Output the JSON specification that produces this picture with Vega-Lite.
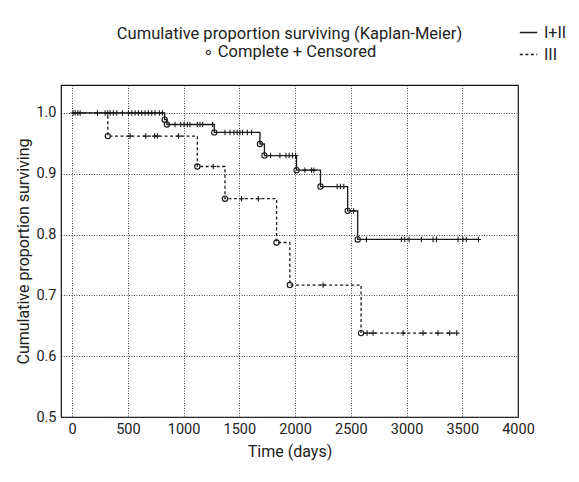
{
  "$schema": "https://vega.github.io/schema/vega-lite/v6.json",
  "autosize": {"type": "none"},
  "width": 457,
  "height": 332,
  "padding": {"left": 61, "top": 85, "right": 61, "bottom": 65},
  "background": "white",
  "config": {
    "font": "Roboto",
    "view": {"stroke": "#111", "strokeWidth": 1.2},
    "axis": {
      "labelFont": "Roboto",
      "labelFontSize": 14.5,
      "labelColor": "#222",
      "titleFont": "Roboto",
      "titleFontSize": 16,
      "titleFontWeight": "normal",
      "titleColor": "#222",
      "ticks": false,
      "domain": false,
      "gridColor": "#444",
      "gridDash": [1, 1.5],
      "gridOpacity": 1,
      "gridWidth": 1
    },
    "legend": {
      "labelFont": "Roboto",
      "labelFontSize": 16,
      "labelColor": "#222"
    },
    "title": {
      "font": "Roboto",
      "fontSize": 16.5,
      "fontWeight": "normal",
      "color": "#222"
    }
  },
  "title": {
    "text": ["Cumulative proportion surviving (Kaplan-Meier)", "∘ Complete + Censored"],
    "anchor": "middle",
    "frame": "group",
    "offset": -37,
    "lineHeight": 18
  },
  "data": {
    "values": [
      {"g": "I+II", "t": 0, "s": 1.0, "k": "start"},
      {"g": "I+II", "t": 8, "s": 1.0, "k": "censor"},
      {"g": "I+II", "t": 27, "s": 1.0, "k": "censor"},
      {"g": "I+II", "t": 51, "s": 1.0, "k": "censor"},
      {"g": "I+II", "t": 72, "s": 1.0, "k": "censor"},
      {"g": "I+II", "t": 227, "s": 1.0, "k": "censor"},
      {"g": "I+II", "t": 296, "s": 1.0, "k": "censor"},
      {"g": "I+II", "t": 320, "s": 1.0, "k": "censor"},
      {"g": "I+II", "t": 341, "s": 1.0, "k": "censor"},
      {"g": "I+II", "t": 370, "s": 1.0, "k": "censor"},
      {"g": "I+II", "t": 400, "s": 1.0, "k": "censor"},
      {"g": "I+II", "t": 451, "s": 1.0, "k": "censor"},
      {"g": "I+II", "t": 505, "s": 1.0, "k": "censor"},
      {"g": "I+II", "t": 535, "s": 1.0, "k": "censor"},
      {"g": "I+II", "t": 565, "s": 1.0, "k": "censor"},
      {"g": "I+II", "t": 595, "s": 1.0, "k": "censor"},
      {"g": "I+II", "t": 624, "s": 1.0, "k": "censor"},
      {"g": "I+II", "t": 654, "s": 1.0, "k": "censor"},
      {"g": "I+II", "t": 684, "s": 1.0, "k": "censor"},
      {"g": "I+II", "t": 714, "s": 1.0, "k": "censor"},
      {"g": "I+II", "t": 744, "s": 1.0, "k": "censor"},
      {"g": "I+II", "t": 783, "s": 1.0, "k": "censor"},
      {"g": "I+II", "t": 809, "s": 1.0, "k": "censor"},
      {"g": "I+II", "t": 830, "s": 0.989, "k": "event"},
      {"g": "I+II", "t": 850, "s": 0.981, "k": "event"},
      {"g": "I+II", "t": 923, "s": 0.981, "k": "censor"},
      {"g": "I+II", "t": 974, "s": 0.981, "k": "censor"},
      {"g": "I+II", "t": 1004, "s": 0.981, "k": "censor"},
      {"g": "I+II", "t": 1033, "s": 0.981, "k": "censor"},
      {"g": "I+II", "t": 1057, "s": 0.981, "k": "censor"},
      {"g": "I+II", "t": 1123, "s": 0.981, "k": "censor"},
      {"g": "I+II", "t": 1147, "s": 0.981, "k": "censor"},
      {"g": "I+II", "t": 1171, "s": 0.981, "k": "censor"},
      {"g": "I+II", "t": 1260, "s": 0.981, "k": "censor"},
      {"g": "I+II", "t": 1275, "s": 0.968, "k": "event"},
      {"g": "I+II", "t": 1371, "s": 0.968, "k": "censor"},
      {"g": "I+II", "t": 1416, "s": 0.968, "k": "censor"},
      {"g": "I+II", "t": 1452, "s": 0.968, "k": "censor"},
      {"g": "I+II", "t": 1481, "s": 0.968, "k": "censor"},
      {"g": "I+II", "t": 1505, "s": 0.968, "k": "censor"},
      {"g": "I+II", "t": 1529, "s": 0.968, "k": "censor"},
      {"g": "I+II", "t": 1571, "s": 0.968, "k": "censor"},
      {"g": "I+II", "t": 1610, "s": 0.968, "k": "censor"},
      {"g": "I+II", "t": 1685, "s": 0.949, "k": "event"},
      {"g": "I+II", "t": 1725, "s": 0.93, "k": "event"},
      {"g": "I+II", "t": 1780, "s": 0.93, "k": "censor"},
      {"g": "I+II", "t": 1864, "s": 0.93, "k": "censor"},
      {"g": "I+II", "t": 1918, "s": 0.93, "k": "censor"},
      {"g": "I+II", "t": 1947, "s": 0.93, "k": "censor"},
      {"g": "I+II", "t": 1977, "s": 0.93, "k": "censor"},
      {"g": "I+II", "t": 2005, "s": 0.93, "k": "censor"},
      {"g": "I+II", "t": 2013, "s": 0.906, "k": "event"},
      {"g": "I+II", "t": 2088, "s": 0.906, "k": "censor"},
      {"g": "I+II", "t": 2148, "s": 0.906, "k": "censor"},
      {"g": "I+II", "t": 2168, "s": 0.906, "k": "censor"},
      {"g": "I+II", "t": 2228, "s": 0.879, "k": "event"},
      {"g": "I+II", "t": 2378, "s": 0.879, "k": "censor"},
      {"g": "I+II", "t": 2407, "s": 0.879, "k": "censor"},
      {"g": "I+II", "t": 2437, "s": 0.879, "k": "censor"},
      {"g": "I+II", "t": 2472, "s": 0.839, "k": "event"},
      {"g": "I+II", "t": 2525, "s": 0.839, "k": "censor"},
      {"g": "I+II", "t": 2562, "s": 0.792, "k": "event"},
      {"g": "I+II", "t": 2640, "s": 0.792, "k": "censor"},
      {"g": "I+II", "t": 2954, "s": 0.792, "k": "censor"},
      {"g": "I+II", "t": 2984, "s": 0.792, "k": "censor"},
      {"g": "I+II", "t": 3023, "s": 0.792, "k": "censor"},
      {"g": "I+II", "t": 3133, "s": 0.792, "k": "censor"},
      {"g": "I+II", "t": 3238, "s": 0.792, "k": "censor"},
      {"g": "I+II", "t": 3268, "s": 0.792, "k": "censor"},
      {"g": "I+II", "t": 3462, "s": 0.792, "k": "censor"},
      {"g": "I+II", "t": 3506, "s": 0.792, "k": "censor"},
      {"g": "I+II", "t": 3536, "s": 0.792, "k": "censor"},
      {"g": "I+II", "t": 3645, "s": 0.792, "k": "censor"},
      {"g": "III", "t": 0, "s": 1.0, "k": "start"},
      {"g": "III", "t": 320, "s": 0.962, "k": "event"},
      {"g": "III", "t": 520, "s": 0.962, "k": "censor"},
      {"g": "III", "t": 660, "s": 0.962, "k": "censor"},
      {"g": "III", "t": 740, "s": 0.962, "k": "censor"},
      {"g": "III", "t": 765, "s": 0.962, "k": "censor"},
      {"g": "III", "t": 955, "s": 0.962, "k": "censor"},
      {"g": "III", "t": 1123, "s": 0.912, "k": "event"},
      {"g": "III", "t": 1266, "s": 0.912, "k": "censor"},
      {"g": "III", "t": 1371, "s": 0.859, "k": "event"},
      {"g": "III", "t": 1520, "s": 0.859, "k": "censor"},
      {"g": "III", "t": 1670, "s": 0.859, "k": "censor"},
      {"g": "III", "t": 1834, "s": 0.787, "k": "event"},
      {"g": "III", "t": 1953, "s": 0.717, "k": "event"},
      {"g": "III", "t": 2252, "s": 0.717, "k": "censor"},
      {"g": "III", "t": 2592, "s": 0.638, "k": "event"},
      {"g": "III", "t": 2646, "s": 0.638, "k": "censor"},
      {"g": "III", "t": 2700, "s": 0.638, "k": "censor"},
      {"g": "III", "t": 2969, "s": 0.638, "k": "censor"},
      {"g": "III", "t": 3148, "s": 0.638, "k": "censor"},
      {"g": "III", "t": 3282, "s": 0.638, "k": "censor"},
      {"g": "III", "t": 3387, "s": 0.638, "k": "censor"},
      {"g": "III", "t": 3450, "s": 0.638, "k": "censor"}
    ]
  },
  "encoding": {
    "x": {
      "field": "t",
      "type": "quantitative",
      "scale": {"domain": [-100, 4000], "nice": false, "zero": false},
      "axis": {"title": "Time (days)", "values": [0, 500, 1000, 1500, 2000, 2500, 3000, 3500, 4000], "format": "d", "labelPadding": 5, "titlePadding": 8, "labelFlush": false}
    },
    "y": {
      "field": "s",
      "type": "quantitative",
      "scale": {"domain": [0.5, 1.046], "nice": false, "zero": false},
      "axis": {"title": "Cumulative proportion surviving", "values": [0.5, 0.6, 0.7, 0.8, 0.9, 1.0], "format": ".1f", "labelPadding": 5, "titlePadding": 4, "labelFlush": false}
    }
  },
  "layer": [
    {
      "mark": {"type": "line", "interpolate": "step-after", "color": "#1a1a1a", "strokeWidth": 1.3},
      "encoding": {
        "detail": {"field": "g"},
        "strokeDash": {
          "field": "g",
          "type": "nominal",
          "scale": {"domain": ["I+II", "III"], "range": [[1, 0], [3, 2.5]]},
          "legend": {
            "title": null,
            "orient": "none",
            "legendX": 458,
            "legendY": -62,
            "symbolType": "stroke",
            "symbolSize": 300,
            "symbolStrokeColor": "#1a1a1a",
            "symbolStrokeWidth": 1.3,
            "rowPadding": 4,
            "labelOffset": 6
          }
        }
      }
    },
    {
      "transform": [{"filter": "datum.k == 'event'"}],
      "mark": {"type": "point", "shape": "circle", "filled": false, "color": "#1a1a1a", "size": 28, "strokeWidth": 1.1, "opacity": 1}
    },
    {
      "transform": [{"filter": "datum.k == 'censor'"}],
      "mark": {"type": "point", "shape": "M-1,0H1M0,-1V1", "filled": false, "color": "#1a1a1a", "size": 30, "strokeWidth": 1.1, "opacity": 1}
    }
  ]
}
